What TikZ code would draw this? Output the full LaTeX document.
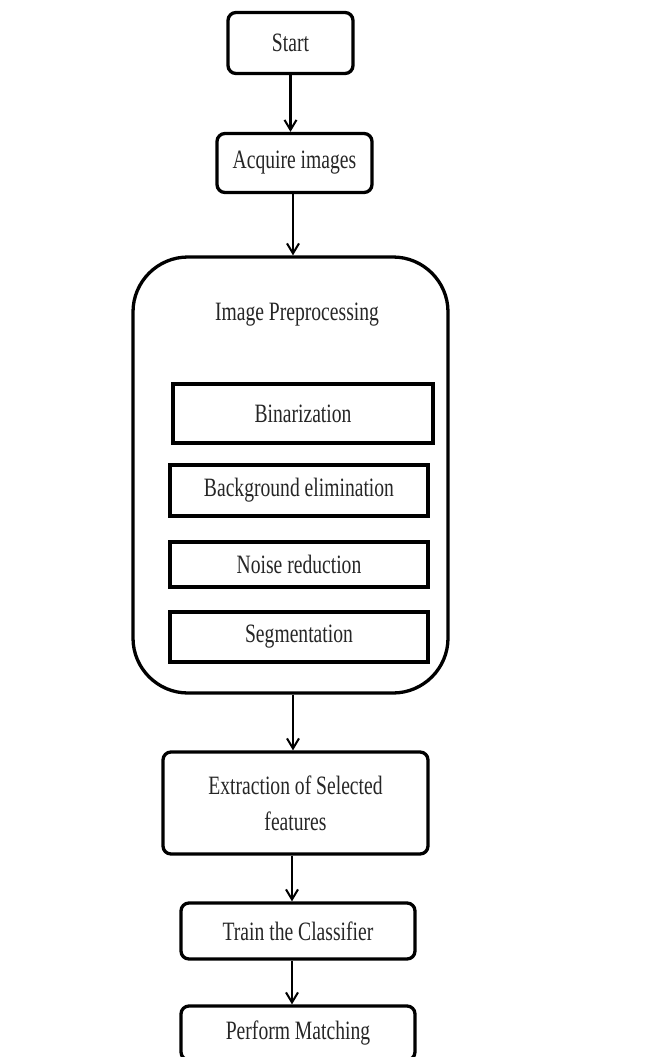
\documentclass[tikz,border=0pt]{standalone}
\usepackage{fontspec}
\setmainfont[FakeStretch=0.74]{Liberation Serif}
\usetikzlibrary{arrows.meta}
\begin{document}
\begin{tikzpicture}[x=1pt,y=-1pt,
  txt/.style={font=\fontsize{26.5}{36}\selectfont, text=black!85},
  rbox/.style={draw, line width=3.3pt, rounded corners=8pt, inner sep=0pt, txt, align=center},
  sbox/.style={draw, line width=3.3pt, inner sep=0pt, txt},
  arr/.style={line width=2.4pt, -{Straight Barb[length=10pt,width=12pt,line width=2pt]}}]
\fill[white] (0,0) rectangle (655,1057);
\useasboundingbox (0,0) rectangle (655,1057);
\node[rbox, minimum width=125pt, minimum height=61pt] (start) at (290.5,43) {Start};
\node[rbox, minimum width=155pt, minimum height=59pt] (acq) at (294.5,163) {Acquire images};
\node[draw, line width=3.3pt, rounded corners=55pt, minimum width=315pt, minimum height=436pt, inner sep=0pt] (pre) at (290.5,475) {};
\node[txt] (pretitle) at (297,315) {Image Preprocessing};
\node[sbox, minimum width=260pt, minimum height=59pt] (bin) at (303,413.5) {Binarization};
\node[sbox, minimum width=258pt, minimum height=51pt] (bg) at (299,490.5) {Background elimination};
\node[sbox, minimum width=258pt, minimum height=45pt] (noise) at (299,564.5) {Noise reduction};
\node[sbox, minimum width=258pt, minimum height=50pt] (seg) at (299,637) {Segmentation};
\node[rbox, minimum width=265pt, minimum height=102pt] (ext) at (295.5,803) {Extraction of Selected\\features};
\node[rbox, minimum width=234pt, minimum height=56pt] (train) at (298,931) {Train the Classifier};
\node[rbox, minimum width=234pt, minimum height=54pt] (perf) at (298,1033) {Perform Matching};
\draw[arr] (start.south -| 290.5,0) -- (acq.north -| 290.5,0);
\draw[arr] (acq.south -| 293,0) -- (pre.north -| 293,0);
\draw[arr] (pre.south -| 293,0) -- (ext.north -| 293,0);
\draw[arr] (ext.south -| 292,0) -- (train.north -| 292,0);
\draw[arr] (train.south -| 292,0) -- (perf.north -| 292,0);
\end{tikzpicture}
\end{document}
